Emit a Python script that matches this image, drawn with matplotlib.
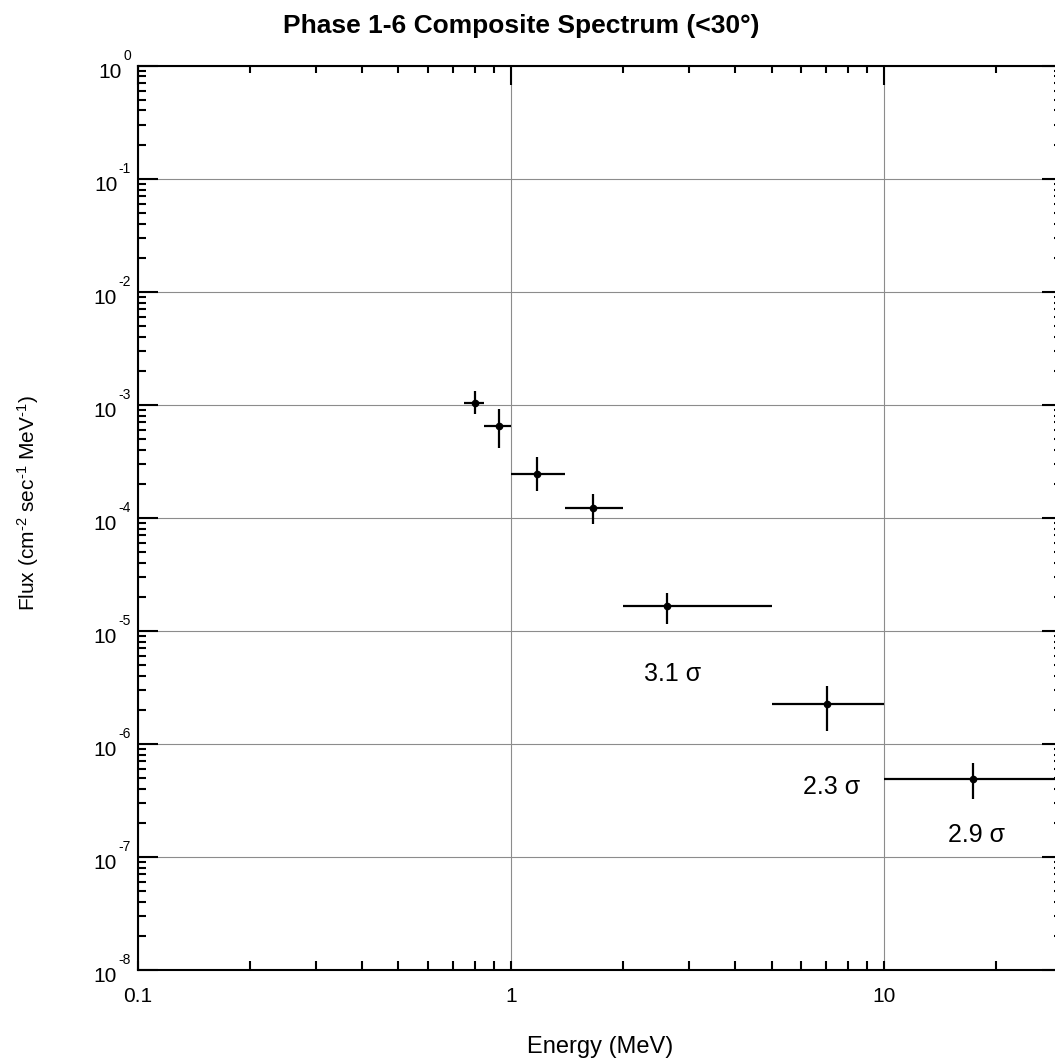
# Phase 1-6 composite spectrum.
import matplotlib
matplotlib.use('Agg')
from matplotlib import pyplot as plt
from matplotlib.ticker import LogLocator, NullFormatter, FixedLocator
from matplotlib.transforms import offset_copy

# Energy bins (MeV), bin centres and fluxes with error bounds.
e_lo = [0.75, 0.85, 1.0, 1.4, 2.0, 5.0, 10.0]
e_hi = [0.85, 1.0, 1.4, 2.0, 5.0, 10.0, 30.0]
energy = [0.80, 0.93, 1.175, 1.66, 2.62, 7.05, 17.3]
flux = [1.04e-3, 6.45e-4, 2.46e-4, 1.22e-4, 1.66e-5, 2.27e-6, 4.88e-7]
flux_hi = [1.32e-3, 9.25e-4, 3.43e-4, 1.61e-4, 2.18e-5, 3.23e-6, 6.76e-7]
flux_lo = [8.2e-4, 4.1e-4, 1.73e-4, 8.75e-5, 1.16e-5, 1.30e-6, 3.25e-7]

# Significance notes.
sig_text = ["3.1 \u03c3", "2.3 \u03c3", "2.9 \u03c3"]
sig_x = [2.71, 7.26, 17.7]
sig_y = [4.12e-6, 4.18e-7, 1.57e-7]

x_ticks = [0.1, 1, 10]
x_labels = ['0.1', '1', '10']
y_powers = list(range(-8, 1))
y_ticks = [10.0 ** p for p in y_powers]

plt.rcParams['font.family'] = ['Liberation Sans', 'DejaVu Sans']
plt.rcParams['mathtext.fontset'] = 'custom'
plt.rcParams['mathtext.rm'] = 'Liberation Sans'
plt.rcParams['mathtext.it'] = 'Liberation Sans'

fig = plt.figure(figsize=(10.55, 10.59), dpi=100)
ax = fig.add_axes([137.5 / 1055, 89 / 1059, 924.5 / 1055, 904.5 / 1059])

xerr = [[c - lo for c, lo in zip(energy, e_lo)],
        [hi - c for c, hi in zip(energy, e_hi)]]
yerr = [[f - lo for f, lo in zip(flux, flux_lo)],
        [hi - f for f, hi in zip(flux, flux_hi)]]
ax.errorbar(energy, flux, xerr=xerr, yerr=yerr, fmt='o', color='black',
            ms=4.5, elinewidth=1.6, capsize=0, zorder=3, clip_on=False)

for t, x, y in zip(sig_text, sig_x, sig_y):
    ax.text(x, y, t, fontsize=18, ha='center', va='center')

ax.set_xscale('log')
ax.set_yscale('log')
ax.set_xlim(0.1, 30)
ax.set_ylim(1e-8, 1)

ax.xaxis.set_major_locator(FixedLocator(x_ticks))
ax.set_xticklabels(x_labels)
ax.set_yticks(y_ticks)
ax.set_yticklabels([])
ax.xaxis.set_minor_locator(LogLocator(base=10, subs=range(2, 10), numticks=20))
ax.yaxis.set_minor_locator(LogLocator(base=10, subs=range(2, 10), numticks=20))
ax.xaxis.set_minor_formatter(NullFormatter())
ax.yaxis.set_minor_formatter(NullFormatter())

ax.grid(True, which='major', color='0.55', linewidth=0.8)
ax.set_axisbelow(True)

for s in ax.spines.values():
    s.set_linewidth(1.5)

ax.tick_params(axis='x', which='both', direction='in', length=6.5, width=1.5,
               top=False, labelsize=15, pad=12)
ax.tick_params(axis='y', which='major', direction='in', length=14.4, width=1.5,
               right=True)
ax.tick_params(axis='y', which='minor', direction='in', length=6, width=1.5,
               right=True)

# Longer ticks along the top edge.
top = ax.twiny()
top.set_xscale('log')
top.set_xlim(ax.get_xlim())
top.xaxis.set_major_locator(FixedLocator(x_ticks))
top.xaxis.set_minor_locator(LogLocator(base=10, subs=range(2, 10), numticks=20))
top.xaxis.set_major_formatter(NullFormatter())
top.xaxis.set_minor_formatter(NullFormatter())
top.tick_params(axis='x', which='major', direction='in', length=14.4, width=1.5)
top.tick_params(axis='x', which='minor', direction='in', length=6, width=1.5)
for s in top.spines.values():
    s.set_visible(False)

# Y tick labels as "10" with a raised exponent.
ytrans = ax.get_yaxis_transform()
fig.canvas.draw()
renderer = fig.canvas.get_renderer()
for p, v in zip(y_powers, y_ticks):
    exp_t = ax.text(0, v, str(p), fontsize=10, ha='right', va='baseline',
                    transform=offset_copy(ytrans, fig=fig, x=-6.5, y=6, units='dots'))
    w = exp_t.get_window_extent(renderer).width
    ax.text(0, v, '10', fontsize=15, ha='right', va='baseline',
            transform=offset_copy(ytrans, fig=fig, x=-8 - w, y=-12, units='dots'))

ax.set_xlabel('Energy (MeV)', fontsize=17, labelpad=22)
ax.set_ylabel(r'Flux (cm$^{\text{-}2}$ sec$^{\text{-}1}$ MeV$^{\text{-}1}$)',
              fontsize=15)
ax.yaxis.set_label_coords(-0.104, 0.516)
fig.text(0.494, 0.9754, 'Phase 1-6 Composite Spectrum (<30\u00b0)', fontsize=19,
         fontweight='bold', ha='center', va='center')

plt.savefig('out.png', dpi=100)
